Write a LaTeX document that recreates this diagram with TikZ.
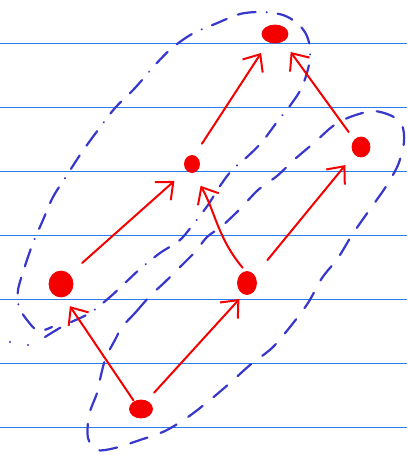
\documentclass[tikz,border=0pt]{standalone}
\usetikzlibrary{arrows.meta,shapes.geometric}
\definecolor{ruleblue}{RGB}{40,125,235}
\definecolor{penblue}{RGB}{55,55,205}
\definecolor{penred}{RGB}{245,0,0}
\begin{document}
\begin{tikzpicture}[x=1pt,y=-1pt,
  ruling/.style={fill=ruleblue},
  dot/.style={ellipse,fill=penred,draw=penred,line width=0.8pt,inner sep=0pt},
  arr/.style={penred,line width=2pt,line cap=round,-{Straight Barb[length=14pt,width=24pt,line width=2pt]}},
  loopa/.style={penblue,line width=2.2pt,line cap=round,dash pattern=on 18pt off 12pt on 16pt off 11pt on 0.1pt off 11pt},
  loopb/.style={penblue,line width=2.2pt,line cap=round,dash pattern=on 18pt off 14pt},
  speck/.style={penblue,fill=penblue}
]
\fill[white] (0,0) rectangle (407,455);
\useasboundingbox (0,0) rectangle (407,455);

% ruled lines
\foreach \yy in {43.3,107.3,171.3,235.3,299.3,363.3,427.3}
  \fill[ruling] (0,\yy-0.8) rectangle (407,\yy+0.8);

% blue dashed loops
\draw[loopa] plot[smooth] coordinates {(45,337) (65,325) (90,313) (110,297) (125,283) (140,269) (160,253) (180,240) (195,222) (208,205) (220,186) (232,170) (247,157) (262,142) (277,122) (292,103) (302,87) (309,65) (310,48) (306,34) (297,23) (283,15) (262,12) (240,14) (215,24) (192,34) (172,48) (155,65) (135,88) (115,108) (98,130) (82,152) (67,175) (53,197) (43,220) (33,243) (25,266) (18,290) (19,307) (27,320) (38,331) (52,327)};
\fill[speck] (10,342) circle (1.2);
\fill[speck] (28,345) circle (1.2);

\draw[loopb] plot[smooth cycle] coordinates {(122,327) (135,313) (150,296) (165,282) (178,269) (195,252) (207,237) (222,226) (240,209) (258,190) (277,176) (295,159) (315,142) (333,126) (350,117) (373,111) (392,116) (402,125) (404,142) (398,165) (385,188) (368,212) (352,235) (338,258) (322,278) (308,303) (290,327) (272,348) (250,365) (230,383) (210,400) (188,417) (165,431) (140,440) (115,448) (97,450) (88,438) (89,415) (97,393) (101,375) (106,357) (115,340)};

% red dots
\node[dot,minimum width=26pt,minimum height=18pt] (top) at (275,34) {};
\node[dot,minimum width=15pt,minimum height=17pt] (mid) at (192,164) {};
\node[dot,minimum width=18pt,minimum height=20pt] (right) at (361,147) {};
\node[dot,minimum width=24pt,minimum height=26pt] (left) at (61,284) {};
\node[dot,minimum width=19pt,minimum height=23pt] (center) at (247,283) {};
\node[dot,minimum width=23pt,minimum height=18pt] (bot) at (141,409) {};

% red arrows
\draw[arr,shorten <=1pt,shorten >=11pt] (bot.132) -- (left.-78);
\draw[arr,shorten <=11pt,shorten >=6.5pt] (bot.55) -- (center.-106);
\draw[arr,shorten <=17pt,shorten >=16pt] (left.49) -- (mid.228);
\draw[arr,shorten <=4.5pt,shorten >=15pt] (center.97) to[out=130,in=-60] (mid.-83);
\draw[arr,shorten <=14pt,shorten >=13pt] (mid.75) -- (top.230);
\draw[arr,shorten <=9.5pt,shorten >=13pt] (right.133) -- (top.-43);
\draw[arr,shorten <=20pt,shorten >=14pt] (center.44) -- (right.227);
\end{tikzpicture}
\end{document}
